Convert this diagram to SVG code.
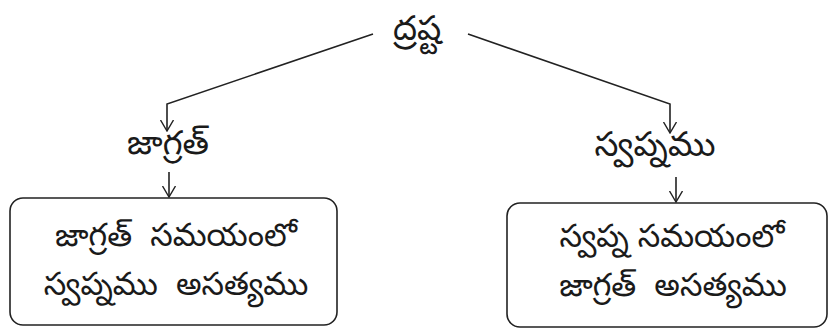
<svg xmlns="http://www.w3.org/2000/svg" width="828" height="331" viewBox="0 0 828 331">
<style>
text{font-family:"Noto Sans Telugu","Noto Sans","DejaVu Sans",sans-serif;fill:#1a1a1a;text-anchor:middle;white-space:pre}
.lbl{font-size:34px}
.bt{font-size:32px}
.box{fill:#fff;stroke:#222;stroke-width:1.6}
.ln{fill:none;stroke:#222;stroke-width:1.6}
</style>
<defs>
<marker id="ah" viewBox="0 0 12 14" refX="11" refY="7" markerWidth="12" markerHeight="14" markerUnits="userSpaceOnUse" orient="auto">
<path d="M0,0.5 L11,7 L0,13.5" fill="none" stroke="#222" stroke-width="1.4"/>
</marker>
</defs>
<rect width="828" height="331" fill="#fff"/>
<g id="connectors">
<polyline class="ln" points="373,34 167,104 167,131" marker-end="url(#ah)"/>
<polyline class="ln" points="468,34 670,104 670,133" marker-end="url(#ah)"/>
<line class="ln" x1="169" y1="172" x2="169" y2="197" marker-end="url(#ah)"/>
<line class="ln" x1="676" y1="177" x2="676" y2="202" marker-end="url(#ah)"/>
</g>
<g id="drashta"><text class="lbl" x="417" y="40">ద్రష్ట</text></g>
<g id="jagrat"><text class="lbl" x="168" y="154">జాగ్రత్</text></g>
<g id="swapnamu"><text class="lbl" x="655" y="156">స్వప్నము</text></g>
<g id="box1">
<rect class="box" x="10" y="198" width="327" height="127" rx="13"/>
<text class="bt" x="176" y="246">జాగ్రత్  సమయంలో</text>
<text class="bt" x="176" y="295">స్వప్నము  అసత్యము</text>
</g>
<g id="box2">
<rect class="box" x="507" y="203" width="320" height="124" rx="13"/>
<text class="bt" x="672" y="247">స్వప్న సమయంలో</text>
<text class="bt" x="673" y="296">జాగ్రత్  అసత్యము</text>
</g>
</svg>
